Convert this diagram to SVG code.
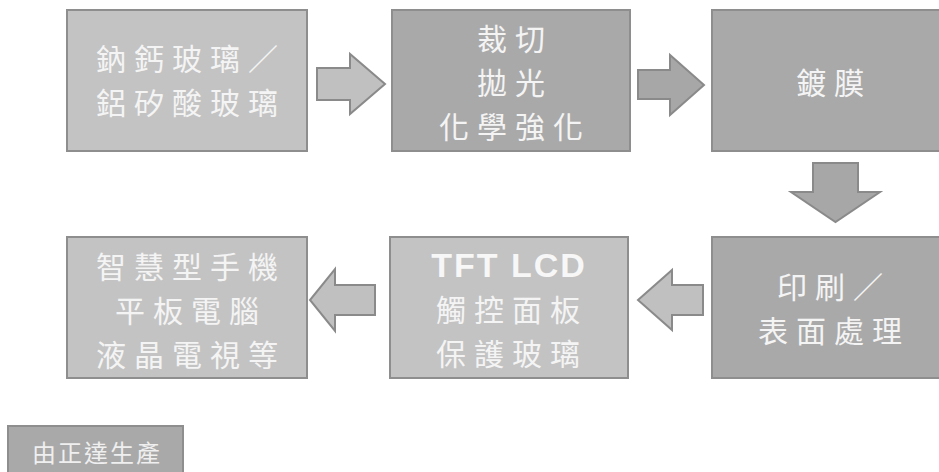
<svg xmlns="http://www.w3.org/2000/svg" width="939" height="472" viewBox="0 0 939 472">
<style>
.light{fill:#c3c3c3;stroke:#8e8e8e;stroke-width:2}
.dark{fill:#a9a9a9;stroke:#8e8e8e;stroke-width:2}
.alight{fill:#c0c0c0;stroke:#8a8a8a;stroke-width:2}
.adark{fill:#a7a7a7;stroke:#8a8a8a;stroke-width:2}
.t{font-family:"Noto Sans CJK TC","Noto Sans CJK SC",sans-serif;font-size:30px;letter-spacing:8px;fill:#f4f4f4;text-anchor:middle}
.b{font-family:"Liberation Sans",Arial,sans-serif;font-weight:bold;font-size:34px;letter-spacing:2px;fill:#f7f7f7;text-anchor:middle}
.s{font-family:"Noto Sans CJK TC","Noto Sans CJK SC",sans-serif;font-size:24px;letter-spacing:2px;fill:#efefef;text-anchor:middle}
</style>
<rect width="939" height="472" fill="#ffffff"/>
<g id="node-glass">
<rect class="light" x="67" y="10" width="240" height="141"/>
<text class="t" x="191" y="70">鈉鈣玻璃／</text>
<text class="t" x="191" y="114">鋁矽酸玻璃</text>
</g>
<g id="node-cut">
<rect class="dark" x="392" y="10" width="238" height="141"/>
<text class="t" x="515" y="50">裁切</text>
<text class="t" x="515" y="94">拋光</text>
<text class="t" x="515" y="138">化學強化</text>
</g>
<g id="node-coating">
<rect class="dark" x="712" y="10" width="240" height="141"/>
<text class="t" x="834" y="94">鍍膜</text>
</g>
<g id="node-print">
<rect class="dark" x="712" y="237" width="240" height="141"/>
<text class="t" x="834" y="298">印刷／</text>
<text class="t" x="834" y="342">表面處理</text>
</g>
<g id="node-tft">
<rect class="light" x="390" y="237" width="238" height="141"/>
<text class="b" x="509" y="277">TFT LCD</text>
<text class="t" x="512" y="321">觸控面板</text>
<text class="t" x="512" y="365">保護玻璃</text>
</g>
<g id="node-apps">
<rect class="light" x="67" y="237" width="240" height="141"/>
<text class="t" x="191" y="278">智慧型手機</text>
<text class="t" x="191" y="322">平板電腦</text>
<text class="t" x="191" y="366">液晶電視等</text>
</g>
<g id="legend">
<rect class="dark" x="8" y="426" width="175" height="52"/>
<text class="s" x="97" y="462">由正達生產</text>
</g>
<g id="connectors">
<polygon class="alight" points="317,68 350,68 350,54 385,84 350,114 350,100 317,100"/>
<polygon class="adark" points="638,70 670,70 670,55 704,85 670,115 670,99 638,99"/>
<polygon class="adark" points="813,163 858,163 858,192 880,192 835.5,222 791,192 813,192"/>
<polygon class="alight" points="703,285 672,285 672,270 638,300 672,330 672,315 703,315"/>
<polygon class="alight" points="375,285 335,285 335,269 310,300 335,331 335,315 375,315"/>
</g>
</svg>
